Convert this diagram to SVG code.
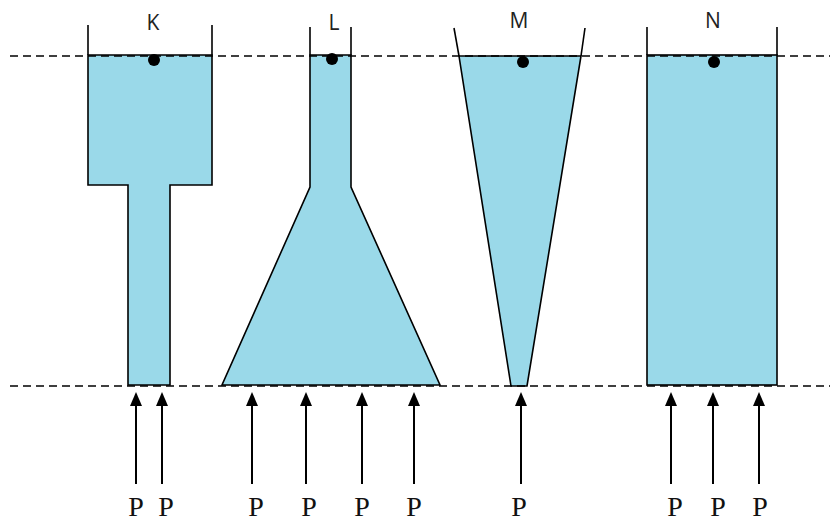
<svg xmlns="http://www.w3.org/2000/svg" width="830" height="523" viewBox="0 0 830 523">
<defs>
<style>
.water{fill:#9AD9E9;stroke:#000;stroke-width:1.6;stroke-linejoin:miter}
.wall{stroke:#000;stroke-width:1.6;fill:none}
.dash{stroke:#000;stroke-width:1.3;stroke-dasharray:8 5;fill:none}
.dot{fill:#000}
.lbl{font-family:"Open Sans","Liberation Sans",Arial,sans-serif;font-size:21px;fill:#222;text-anchor:middle}
.p{font-family:"Liberation Serif","Times New Roman",serif;font-size:28px;fill:#111;text-anchor:middle}
.arr{stroke:#000;stroke-width:2;fill:none;marker-end:url(#ah)}
</style>
<marker id="ah" viewBox="0 0 14 12" refX="1" refY="6" markerWidth="14" markerHeight="12" markerUnits="userSpaceOnUse" orient="auto">
<path d="M0,0 L14,6 L0,12 Z" fill="#000"/>
</marker>
</defs>
<rect width="830" height="523" fill="#fff"/>
<g id="K">
<polygon class="water" points="88,55 212,55 212,185 170,185 170,385 128,385 128,185 88,185"/>
<line class="wall" x1="88" y1="25" x2="88" y2="55"/>
<line class="wall" x1="212" y1="25" x2="212" y2="55"/>
<circle class="dot" cx="154" cy="60" r="6"/>
<text class="lbl" x="153" y="30">K</text>
</g>
<g id="L">
<polygon class="water" points="310,55 351,55 351,187 440,385 222,385 310,187"/>
<line class="wall" x1="310" y1="27" x2="310" y2="55"/>
<line class="wall" x1="351" y1="27" x2="351" y2="55"/>
<circle class="dot" cx="332" cy="59" r="6"/>
<text class="lbl" x="334" y="30">L</text>
</g>
<g id="M">
<polygon class="water" points="459,56 581,56 527,386 511,386"/>
<line class="wall" x1="454" y1="28" x2="459" y2="56"/>
<line class="wall" x1="585" y1="28" x2="581" y2="56"/>
<circle class="dot" cx="523" cy="62" r="6"/>
<text class="lbl" x="519" y="28">M</text>
</g>
<g id="N">
<rect class="water" x="647" y="55" width="130" height="330"/>
<line class="wall" x1="647" y1="27" x2="647" y2="55"/>
<line class="wall" x1="777" y1="27" x2="777" y2="55"/>
<circle class="dot" cx="714" cy="62" r="6"/>
<text class="lbl" x="713" y="28">N</text>
</g>
<g id="levels">
<line class="dash" x1="10" y1="56" x2="830" y2="56"/>
<line class="dash" x1="10" y1="386" x2="830" y2="386"/>
</g>
<g id="connectors">
<line class="arr" x1="136" y1="484" x2="136" y2="405"/>
<line class="arr" x1="162" y1="484" x2="162" y2="405"/>
<line class="arr" x1="252" y1="484" x2="252" y2="405"/>
<line class="arr" x1="306" y1="484" x2="306" y2="405"/>
<line class="arr" x1="362" y1="484" x2="362" y2="405"/>
<line class="arr" x1="414" y1="484" x2="414" y2="405"/>
<line class="arr" x1="521" y1="484" x2="521" y2="405"/>
<line class="arr" x1="671" y1="484" x2="671" y2="405"/>
<line class="arr" x1="713" y1="484" x2="713" y2="405"/>
<line class="arr" x1="759" y1="484" x2="759" y2="405"/>
</g>
<g id="labels">
<text class="p" x="136" y="516">P</text>
<text class="p" x="166" y="516">P</text>
<text class="p" x="256" y="516">P</text>
<text class="p" x="309" y="516">P</text>
<text class="p" x="362" y="516">P</text>
<text class="p" x="414" y="516">P</text>
<text class="p" x="519" y="516">P</text>
<text class="p" x="675" y="516">P</text>
<text class="p" x="718" y="516">P</text>
<text class="p" x="760" y="516">P</text>
</g>
</svg>
